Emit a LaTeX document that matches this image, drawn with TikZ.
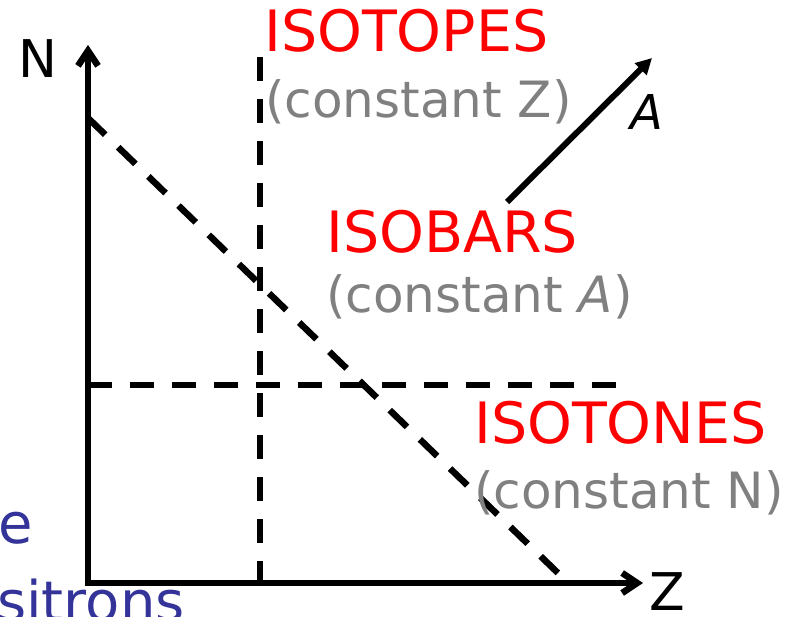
\documentclass[tikz,border=0pt]{standalone}
\usepackage{fontspec}
\setmainfont{DejaVu Sans}
\usetikzlibrary{arrows.meta}
\definecolor{isored}{RGB}{255,0,0}
\definecolor{isogray}{RGB}{128,128,128}
\definecolor{isoblue}{RGB}{51,51,153}

\begin{document}
\begin{tikzpicture}[x=1pt, y=-1pt,
  axis/.style={line width=6.5pt, line join=miter,
    {Straight Barb[length=15pt,width=20pt]}-{Straight Barb[length=15pt,width=20pt]}},
  guide/.style={line width=6.5pt, dash pattern=on 24pt off 18pt},
  isoname/.style={text=isored, font=\fontsize{57}{60}\selectfont, inner sep=0pt, anchor=base west},
  isorule/.style={text=isogray, font=\fontsize{50}{60}\selectfont, inner sep=0pt, anchor=base west},
  axlabel/.style={font=\fontsize{52}{60}\selectfont, inner sep=0pt},
  cut/.style={text=isoblue, font=\fontsize{56}{60}\selectfont, inner sep=0pt}]
  \useasboundingbox (0,0) rectangle (791,617);
  \clip (0,0) rectangle (791,617);

  % axes
  \coordinate (O) at (88,583);
  \coordinate (Ntip) at (88,45);
  \coordinate (Ztip) at (643,583);
  \draw[axis] (Ntip) -- (O) -- (Ztip);
  \node[axlabel] (N) at (38,59) {N};
  \node[axlabel] (Z) at (667,592) {Z};

  % constant Z, constant N, constant A
  \coordinate (Vtop) at (260,57);
  \coordinate (Vbot) at (260,583);
  \coordinate (Hleft) at (88,385);
  \coordinate (Hright) at (616,385);
  \coordinate (Dtop) at (88,118);
  \coordinate (Dbot) at (560,575);
  \draw[guide] (Vtop) -- (Vbot);
  \draw[guide] (Hleft) -- (Hright);
  \draw[guide] (Dtop) -- (Dbot);

  % mass number direction
  \coordinate (Abase) at (507,202);
  \coordinate (Atip) at (652,58);
  \draw[line width=6pt, -{Triangle[length=16pt,width=16pt]}] (Abase) -- (Atip);
  \node[axlabel, font=\fontsize{48}{60}\selectfont\itshape] (A) at (647,112) {A};

  \node[isoname] (isotopes) at (264,52) {ISOTOPES};
  \node[isorule] (constZ) at (265,118) {(constant Z)};
  \node[isoname] (isobars) at (326,252) {ISOBARS};
  \node[isorule] (constA) at (326,312) {(constant \textit{A})};
  \node[isoname] (isotones) at (474,443) {ISOTONES};
  \node[isorule] (constN) at (474,508) {(constant N)};

  % text cut off at the slide edge
  \node[cut, anchor=base east] (e) at (33,543) {e};
  \node[cut, anchor=base west] (sitrons) at (-3,621) {sitrons};
\end{tikzpicture}
\end{document}
